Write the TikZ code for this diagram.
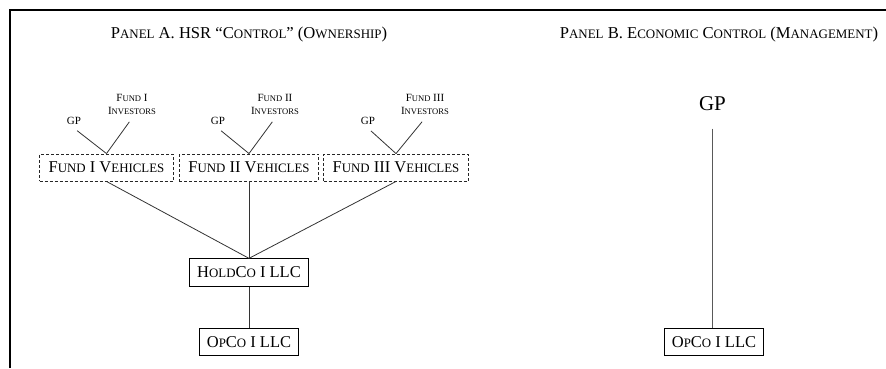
\documentclass[tikz,border=0pt]{standalone}
\usepackage{fontspec}
\setmainfont{Liberation Serif}
\usetikzlibrary{arrows,calc}

% fake small capitals
\makeatletter
\newdimen\losize
\newcommand\lo[1]{{\losize=\f@size pt\relax\fontsize{0.78\losize}{0.9\losize}\selectfont#1}}
\makeatother

\begin{document}
\begin{tikzpicture}[x=1pt,y=-1pt, title/.style={font=\fontsize{16.6}{20}\selectfont}, vehicle/.style={rectangle,dashed,dash pattern=on 3pt off 2pt,line width=0.9pt,draw=black!85,inner xsep=9pt,minimum height=27pt,font=\fontsize{16.5}{20}\selectfont}, entity/.style={rectangle,line width=0.8pt,draw=black,inner xsep=7.5pt,minimum height=27.5pt,font=\fontsize{16.5}{20}\selectfont}, small/.style={font=\fontsize{11}{13}\selectfont,align=center}, tie/.style={draw=black!80,line width=0.8pt}]
  \useasboundingbox (0,0) rectangle (886,368);
  \draw[line width=1.6pt] (10,368) -- (10,10) -- (886,10);
  % panel A
  \node (titleA) [title] at (249,35) {P\lo{ANEL} A. HSR “C\lo{ONTROL}” (O\lo{WNERSHIP})};
  \node (fundII) [vehicle] at (249,167.5) {F\lo{UND} II V\lo{EHICLES}};
  \node (fundI) [vehicle,left of=fundII,node distance=142.5pt] {F\lo{UND} I V\lo{EHICLES}};
  \node (fundIII) [vehicle,right of=fundII,node distance=147pt] {F\lo{UND} III V\lo{EHICLES}};
  \node (gpI) [small,above of=fundI,node distance=46.5pt,xshift=-32.5pt] {GP};
  \node (invI) [small,above of=fundI,node distance=63pt,xshift=25.5pt] {F\lo{UND} I\\I\lo{NVESTORS}};
  \node (gpII) [small,above of=fundII,node distance=46.5pt,xshift=-31pt] {GP};
  \node (invII) [small,above of=fundII,node distance=63pt,xshift=26pt] {F\lo{UND} II\\I\lo{NVESTORS}};
  \node (gpIII) [small,above of=fundIII,node distance=46.5pt,xshift=-28pt] {GP};
  \node (invIII) [small,above of=fundIII,node distance=63pt,xshift=29pt] {F\lo{UND} III\\I\lo{NVESTORS}};
  \node (holdco) [entity,below of=fundII,node distance=105pt] {H\lo{OLD}C\lo{O} I LLC};
  \node (opcoA) [entity,below of=holdco,node distance=69.5pt] {O\lo{P}C\lo{O} I LLC};
  \draw[tie,shorten <=4pt] (gpI.south) -- (fundI.north);
  \draw[tie,shorten <=4.5pt] (invI.south) -- (fundI.north);
  \draw[tie,shorten <=4pt] (gpII.south) -- (fundII.north);
  \draw[tie,shorten <=4.5pt] (invII.south) -- (fundII.north);
  \draw[tie,shorten <=4pt] (gpIII.south) -- (fundIII.north);
  \draw[tie,shorten <=4.5pt] (invIII.south) -- (fundIII.north);
  \draw[tie] (fundI.south) -- (holdco.north);
  \draw[tie] (fundII.south) -- (holdco.north);
  \draw[tie] (fundIII.south) -- (holdco.north);
  \draw[tie] (holdco) -- (opcoA);
  % panel B
  \node (titleB) [title] at (719,35) {P\lo{ANEL} B. E\lo{CONOMIC} C\lo{ONTROL} (M\lo{ANAGEMENT})};
  \node (opcoB) [entity] at (714,342) {O\lo{P}C\lo{O} I LLC};
  \node (gpB) [font=\fontsize{21}{24}\selectfont,above of=opcoB,node distance=238pt,xshift=-1.5pt] {GP};
  \draw[tie,draw=black!65,shorten <=14pt] (gpB.south) -- (gpB.south |- opcoB.north);
\end{tikzpicture}
\end{document}
